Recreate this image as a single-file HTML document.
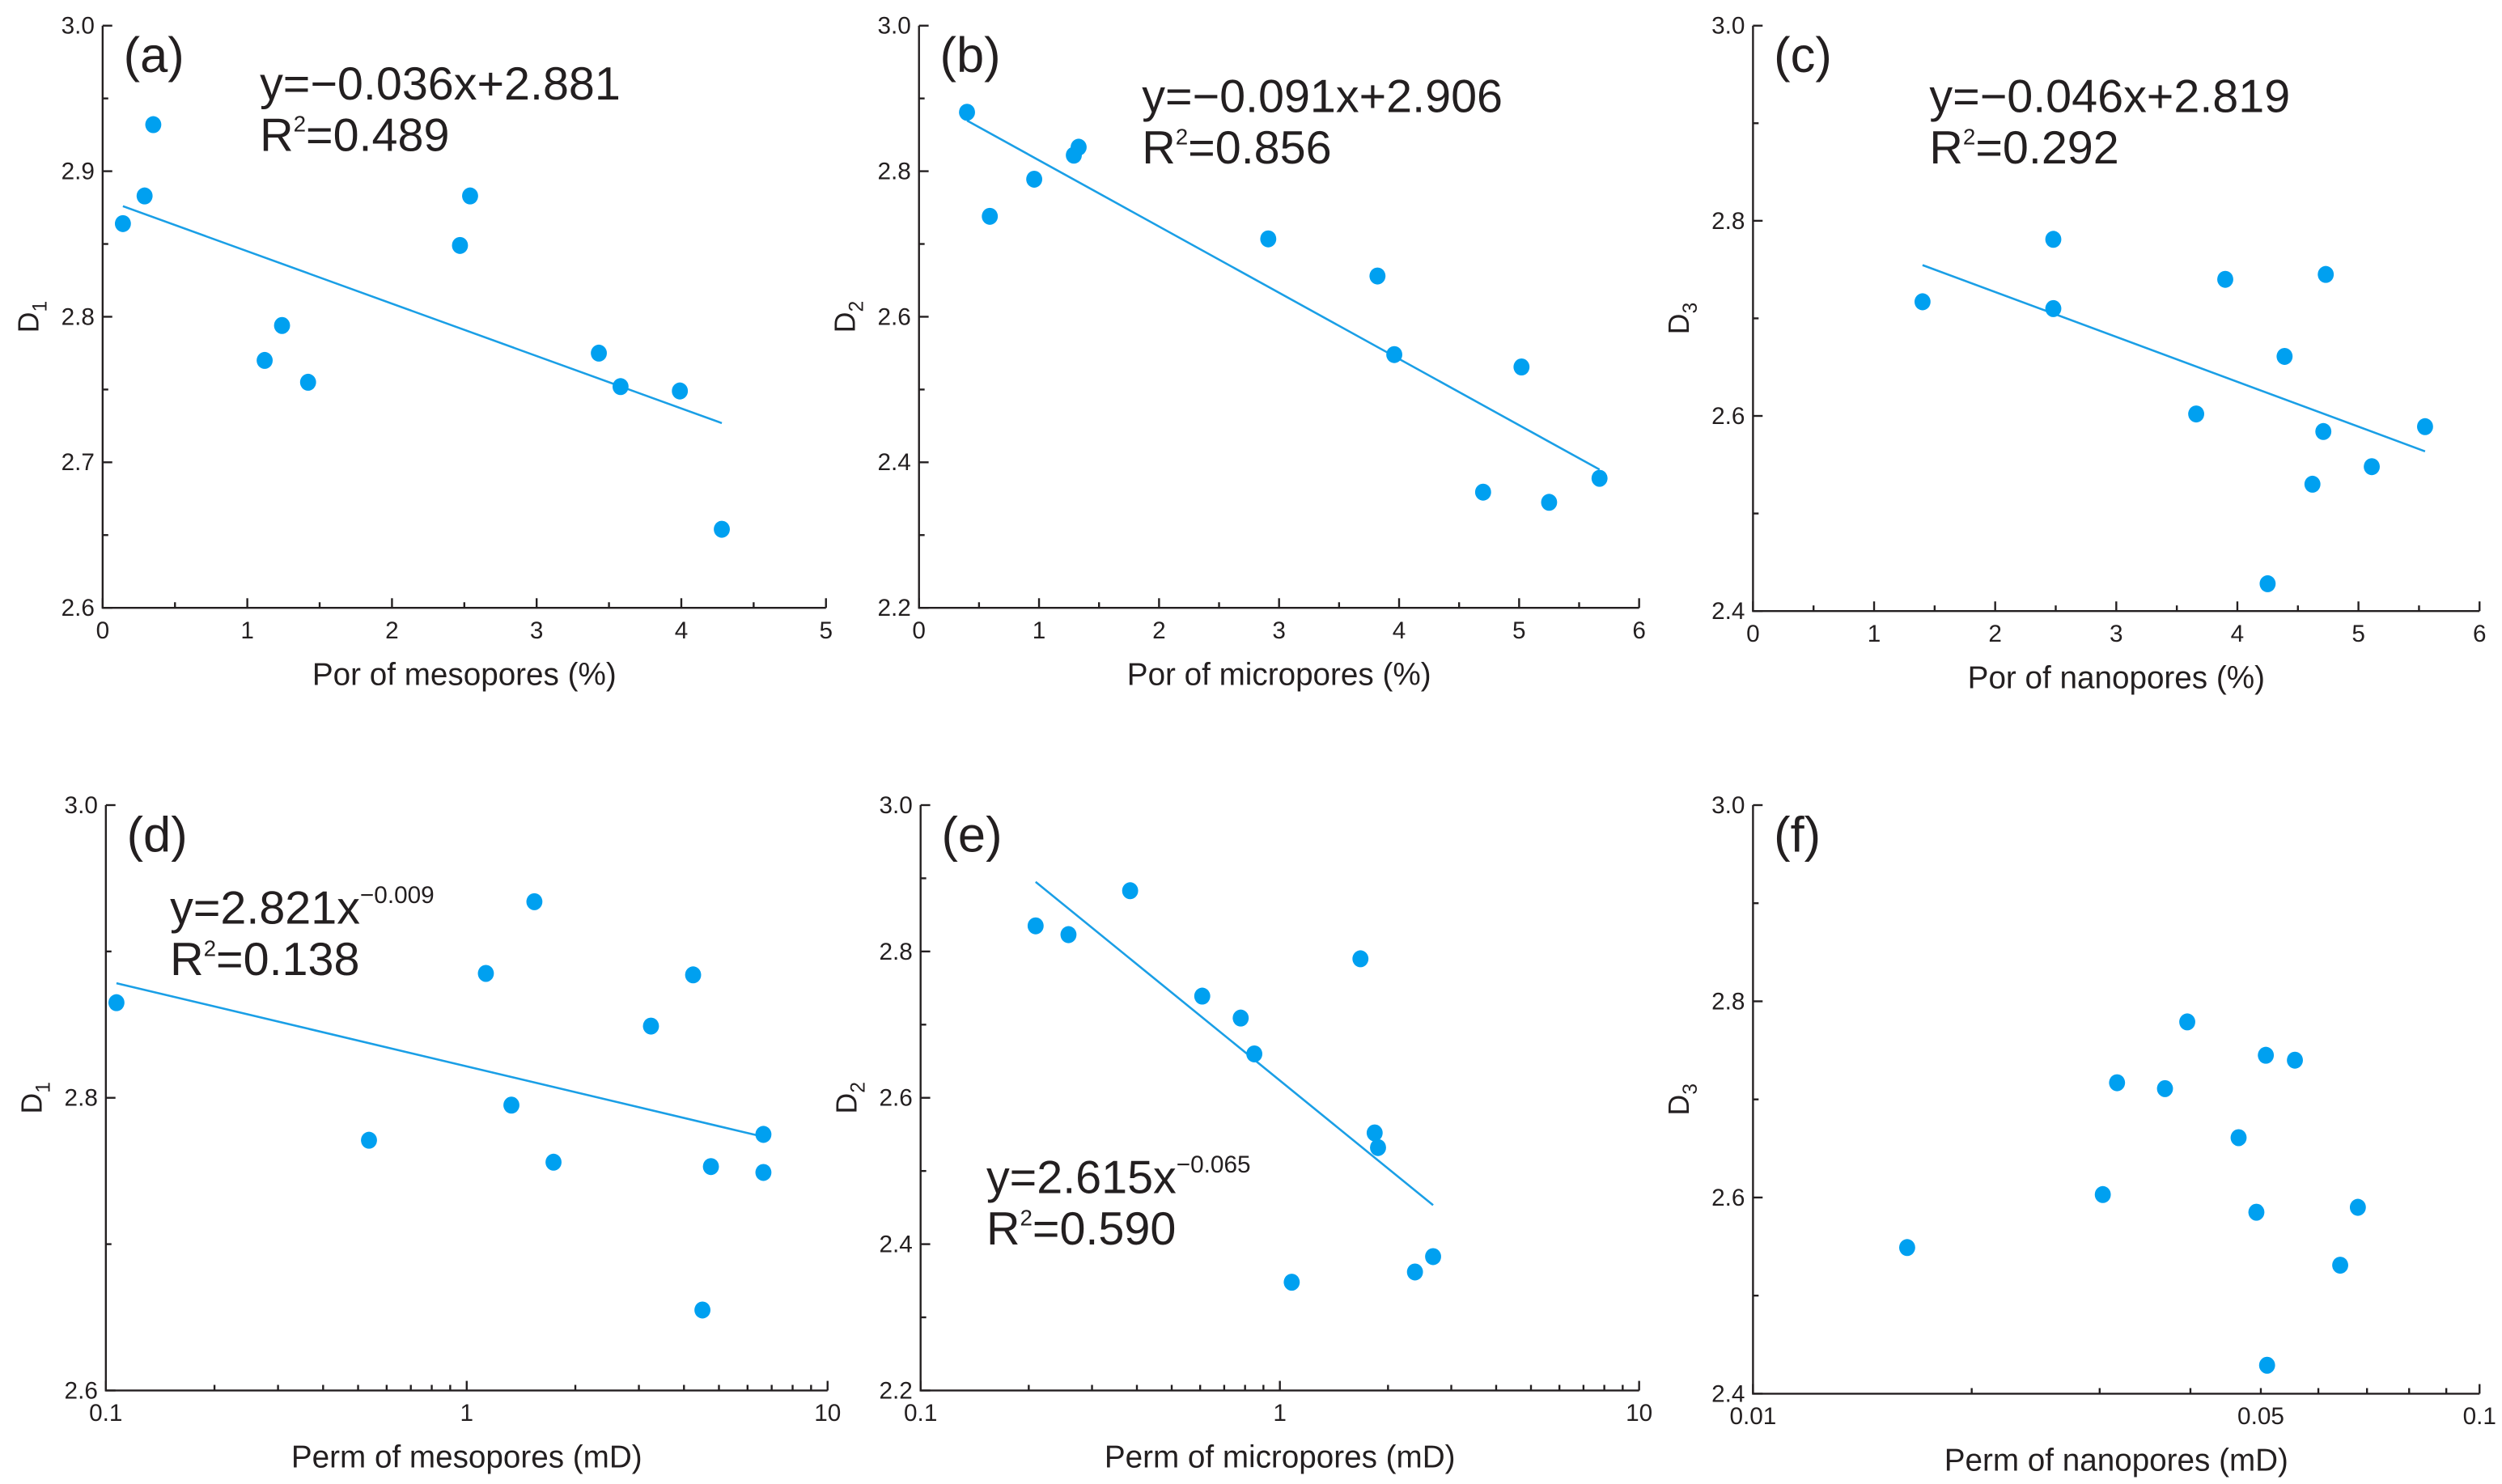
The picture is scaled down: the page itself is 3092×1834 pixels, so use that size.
<!DOCTYPE html>
<html><head><meta charset="utf-8"><style>
html,body{margin:0;padding:0;background:#fff}
svg{display:block}
text{font-family:"Liberation Sans",sans-serif;fill:#231f20}
</style></head><body>
<svg id="fig" width="3092" height="1834" viewBox="0 0 1560 925.3" preserveAspectRatio="none" xmlns="http://www.w3.org/2000/svg"></svg>
<script>
// ---- data ----
const aX=[0.14,0.29,0.35,1.12,1.24,1.42,2.47,2.54,3.43,3.58,3.99,4.28];
const aY=[2.864,2.883,2.932,2.770,2.794,2.755,2.849,2.883,2.775,2.752,2.749,2.654];
const bX=[0.40,0.59,0.96,1.29,1.33,2.91,3.82,3.96,4.70,5.02,5.25,5.67];
const bY=[2.881,2.738,2.789,2.822,2.833,2.707,2.656,2.548,2.359,2.531,2.345,2.378];
const cX=[1.40,2.48,2.48,3.66,3.90,4.39,4.73,4.71,4.62,4.25,5.11,5.55];
const cY=[2.717,2.781,2.710,2.602,2.740,2.661,2.745,2.584,2.530,2.428,2.548,2.589];
const dX=[0.107,0.536,1.13,1.33,1.54,1.74,3.24,4.24,4.75,4.5,6.64,6.64];
const dY=[2.865,2.771,2.885,2.795,2.934,2.756,2.849,2.884,2.753,2.655,2.775,2.749];
const eX=[0.209,0.258,0.383,0.608,0.778,0.849,1.676,1.836,1.876,1.079,2.377,2.67];
const eY=[2.835,2.823,2.883,2.739,2.709,2.660,2.790,2.552,2.532,2.348,2.362,2.383];
const fX=[0.0163,0.0303,0.0317,0.0369,0.0396,0.0466,0.0493,0.0508,0.0557,0.051,0.0643,0.068];
const fY=[2.549,2.603,2.717,2.711,2.779,2.661,2.585,2.745,2.740,2.429,2.531,2.590];
const aTicksX=["0","1","2","3","4","5"], aTicksY=["2.6","2.7","2.8","2.9","3.0"];
const bTicksX=["0","1","2","3","4","5","6"], bTicksY=["2.2","2.4","2.6","2.8","3.0"];
const cTicksY=["2.4","2.6","2.8","3.0"];
const logTicks1=["0.1","1","10"], logTicksF=["0.01","0.05","0.1"];
const fitA=[-0.036,2.881], fitB=[-0.091,2.906], fitC=[-0.046,2.819];
const fitD=[2.821,-0.009], fitE=[2.615,-0.065];

const svg=document.getElementById('fig');
const NS='http://www.w3.org/2000/svg';
function mk(tag,attrs,parent){const e=document.createElementNS(NS,tag);for(const k in attrs)e.setAttribute(k,attrs[k]);(parent||svg).appendChild(e);return e;}
const COL='#00a0f0', INK='#231f20';

function panel(o){
  const g=mk('g',{});
  
  
  const sx=v=>o.log? o.x0+(Math.log10(v)-Math.log10(o.xmin))/(Math.log10(o.xmax)-Math.log10(o.xmin))*(o.x1-o.x0)
                    : o.x0+(v-o.xmin)/(o.xmax-o.xmin)*(o.x1-o.x0);
  const sy=v=>o.yb+(v-o.ymin)/(o.ymax-o.ymin)*(o.yt-o.yb);
  const ax=mk('path',{d:`M${o.x0},${o.yt}V${o.yb}H${o.x1}`,fill:'none',stroke:INK,'stroke-width':1.2},g);
  
  
  const ny=o.yLabels.length;
  for(let i=0;i<ny;i++){
    const v=o.ymin+i*(o.ymax-o.ymin)/(ny-1), y=sy(v);
    mk('line',{x1:o.x0,x2:o.x0+6,y1:y,y2:y,stroke:INK,'stroke-width':1.2},g);
    const t=mk('text',{x:o.x0-5,y:y+5,'text-anchor':'end','font-size':15},g);t.textContent=o.yLabels[i];
    
    
    if(i<ny-1){const ym=sy(v+(o.ymax-o.ymin)/(ny-1)/2);mk('line',{x1:o.x0,x2:o.x0+3.5,y1:ym,y2:ym,stroke:INK,'stroke-width':1.2},g);}
  }
  if(o.log){
    const lo=Math.round(Math.log10(o.xmin)),hi=Math.round(Math.log10(o.xmax));
    for(let p=lo;p<=hi;p++){
      const x=sx(Math.pow(10,p));
      mk('line',{x1:x,x2:x,y1:o.yb,y2:o.yb-6,stroke:INK,'stroke-width':1.2},g);
      if(p<hi)for(let m=2;m<=9;m++){const xm=sx(m*Math.pow(10,p));mk('line',{x1:xm,x2:xm,y1:o.yb,y2:o.yb-3.5,stroke:INK,'stroke-width':1.2},g);}
    }
    o.xLabelVals.forEach((v,i)=>{const t=mk('text',{x:sx(v),y:o.yb+19,'text-anchor':'middle','font-size':15},g);t.textContent=o.xLabels[i];
      
      });
  } else {
    const nx=o.xLabels.length;
    for(let i=0;i<nx;i++){
      const v=o.xmin+i*(o.xmax-o.xmin)/(nx-1),x=sx(v);
      mk('line',{x1:x,x2:x,y1:o.yb,y2:o.yb-6,stroke:INK,'stroke-width':1.2},g);
      const t=mk('text',{x:x,y:o.yb+19,'text-anchor':'middle','font-size':15},g);t.textContent=o.xLabels[i];
      
      
      if(i<nx-1){const xm=sx(v+(o.xmax-o.xmin)/(nx-1)/2);mk('line',{x1:xm,x2:xm,y1:o.yb,y2:o.yb-3.5,stroke:INK,'stroke-width':1.2},g);}
    }
  }
  const xt=mk('text',{x:(o.x0+o.x1)/2,y:o.yb+48,'text-anchor':'middle','font-size':19.5},g);xt.textContent=o.xTitle;
  
  
  const cy=(o.yt+o.yb)/2;
  const yt=mk('text',{x:0,y:0,'font-size':18,transform:`translate(${o.x0-40},${cy}) rotate(-90)`,'text-anchor':'middle'},g);
  yt.innerHTML=`D<tspan font-size="12.5" dy="5">${o.sub}</tspan>`;
  
  
  const pl=mk('text',{x:o.x0+13,y:o.yt+29,'font-size':31},g);pl.textContent=`(${o.id})`;
  
  
  if(o.fit){
    const xs=o.X, lo=Math.min(...xs), hi=Math.max(...xs);
    const f=o.log? v=>o.fit[0]*Math.pow(v,o.fit[1]) : v=>o.fit[0]*v+o.fit[1];
    const ln=mk('line',{x1:sx(lo),y1:sy(f(lo)),x2:sx(hi),y2:sy(f(hi)),stroke:'#1a9fe6','stroke-width':1.3},g);
    
    
  }
  o.X.forEach((v,i)=>{
    const c=mk('ellipse',{cx:sx(v),cy:sy(o.Y[i]),rx:5,ry:5.3,fill:COL},g);
    
    
  });
  if(o.eq){
    const e1=mk('text',{x:o.eq[0],y:o.eq[1],'font-size':29},g);e1.innerHTML=o.eqText;
    
    
    const e2=mk('text',{x:o.eq[0],y:o.eq[1]+32,'font-size':29},g);e2.innerHTML=`R<tspan font-size="14" dy="-12">2</tspan><tspan dy="12">=${o.r2}</tspan>`;
    
    
  }
}
panel({id:'a',x0:64,x1:515,yt:16,yb:379,xmin:0,xmax:5,ymin:2.6,ymax:3.0,xLabels:aTicksX,yLabels:aTicksY,X:aX,Y:aY,fit:fitA,sub:'1',
  xTitle:'Por of mesopores (%)',eq:[162,62],eqText:'y=−0.036x+2.881',r2:'0.489'});
panel({id:'b',x0:573,x1:1022,yt:16,yb:379,xmin:0,xmax:6,ymin:2.2,ymax:3.0,xLabels:bTicksX,yLabels:bTicksY,X:bX,Y:bY,fit:fitB,sub:'2',
  xTitle:'Por of micropores (%)',eq:[712,70],eqText:'y=−0.091x+2.906',r2:'0.856'});
panel({id:'c',x0:1093,x1:1546,yt:16,yb:381,xmin:0,xmax:6,ymin:2.4,ymax:3.0,xLabels:bTicksX,yLabels:cTicksY,X:cX,Y:cY,fit:fitC,sub:'3',
  xTitle:'Por of nanopores (%)',eq:[1203,70],eqText:'y=−0.046x+2.819',r2:'0.292'});
panel({id:'d',log:true,x0:66,x1:516,yt:502,yb:867,xmin:0.1,xmax:10,ymin:2.6,ymax:3.0,xLabels:logTicks1,xLabelVals:[0.1,1,10],yLabels:aTicksY.filter((_,i)=>i%2==0),X:dX,Y:dY,fit:fitD,sub:'1',
  xTitle:'Perm of mesopores (mD)',eq:[106,576],eqText:'y=2.821x<tspan font-size="15" dy="-13">−0.009</tspan>',r2:'0.138'});
panel({id:'e',log:true,x0:574,x1:1022,yt:502,yb:867,xmin:0.1,xmax:10,ymin:2.2,ymax:3.0,xLabels:logTicks1,xLabelVals:[0.1,1,10],yLabels:bTicksY,X:eX,Y:eY,fit:fitE,sub:'2',
  xTitle:'Perm of micropores (mD)',eq:[615,744],eqText:'y=2.615x<tspan font-size="15" dy="-13">−0.065</tspan>',r2:'0.590'});
panel({id:'f',log:true,x0:1093,x1:1546,yt:502,yb:869,xmin:0.01,xmax:0.1,ymin:2.4,ymax:3.0,xLabels:logTicksF,xLabelVals:[0.01,0.05,0.1],yLabels:cTicksY,X:fX,Y:fY,sub:'3',
  xTitle:'Perm of nanopores (mD)'});
</script>
</body></html>
